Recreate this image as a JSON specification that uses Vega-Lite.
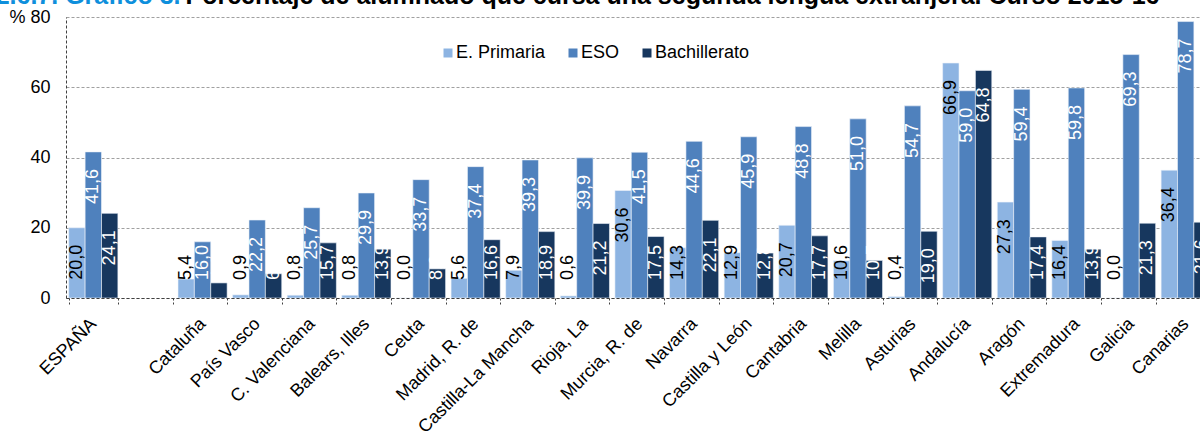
{
  "$schema": "https://vega.github.io/schema/vega-lite/v6.json",
  "width": 1134,
  "height": 281,
  "autosize": {"type": "none"},
  "padding": {"left": 66, "top": 17, "right": 0, "bottom": 133},
  "config": {
    "locale": {"number": {"decimal": ",", "thousands": ".", "grouping": [3], "currency": ["", " €"]}},
    "font": "Liberation Sans",
    "view": {"stroke": null}
  },
  "data": {
    "values": [
      {"region": "ESPAÑA", "serie": "E. Primaria", "value": 20.0},
      {"region": "ESPAÑA", "serie": "ESO", "value": 41.6},
      {"region": "ESPAÑA", "serie": "Bachillerato", "value": 24.1},
      {"region": "Cataluña", "serie": "E. Primaria", "value": 5.4},
      {"region": "Cataluña", "serie": "ESO", "value": 16.0},
      {"region": "Cataluña", "serie": "Bachillerato", "value": 4.3},
      {"region": "País Vasco", "serie": "E. Primaria", "value": 0.9},
      {"region": "País Vasco", "serie": "ESO", "value": 22.2},
      {"region": "País Vasco", "serie": "Bachillerato", "value": 6.9},
      {"region": "C. Valenciana", "serie": "E. Primaria", "value": 0.8},
      {"region": "C. Valenciana", "serie": "ESO", "value": 25.7},
      {"region": "C. Valenciana", "serie": "Bachillerato", "value": 15.7},
      {"region": "Balears, Illes", "serie": "E. Primaria", "value": 0.8},
      {"region": "Balears, Illes", "serie": "ESO", "value": 29.9},
      {"region": "Balears, Illes", "serie": "Bachillerato", "value": 13.9},
      {"region": "Ceuta", "serie": "E. Primaria", "value": 0.0},
      {"region": "Ceuta", "serie": "ESO", "value": 33.7},
      {"region": "Ceuta", "serie": "Bachillerato", "value": 8.3},
      {"region": "Madrid, R. de", "serie": "E. Primaria", "value": 5.6},
      {"region": "Madrid, R. de", "serie": "ESO", "value": 37.4},
      {"region": "Madrid, R. de", "serie": "Bachillerato", "value": 16.6},
      {"region": "Castilla-La Mancha", "serie": "E. Primaria", "value": 7.9},
      {"region": "Castilla-La Mancha", "serie": "ESO", "value": 39.3},
      {"region": "Castilla-La Mancha", "serie": "Bachillerato", "value": 18.9},
      {"region": "Rioja, La", "serie": "E. Primaria", "value": 0.6},
      {"region": "Rioja, La", "serie": "ESO", "value": 39.9},
      {"region": "Rioja, La", "serie": "Bachillerato", "value": 21.2},
      {"region": "Murcia, R. de", "serie": "E. Primaria", "value": 30.6},
      {"region": "Murcia, R. de", "serie": "ESO", "value": 41.5},
      {"region": "Murcia, R. de", "serie": "Bachillerato", "value": 17.5},
      {"region": "Navarra", "serie": "E. Primaria", "value": 14.3},
      {"region": "Navarra", "serie": "ESO", "value": 44.6},
      {"region": "Navarra", "serie": "Bachillerato", "value": 22.1},
      {"region": "Castilla y León", "serie": "E. Primaria", "value": 12.9},
      {"region": "Castilla y León", "serie": "ESO", "value": 45.9},
      {"region": "Castilla y León", "serie": "Bachillerato", "value": 12.8},
      {"region": "Cantabria", "serie": "E. Primaria", "value": 20.7},
      {"region": "Cantabria", "serie": "ESO", "value": 48.8},
      {"region": "Cantabria", "serie": "Bachillerato", "value": 17.7},
      {"region": "Melilla", "serie": "E. Primaria", "value": 10.6},
      {"region": "Melilla", "serie": "ESO", "value": 51.0},
      {"region": "Melilla", "serie": "Bachillerato", "value": 10.7},
      {"region": "Asturias", "serie": "E. Primaria", "value": 0.4},
      {"region": "Asturias", "serie": "ESO", "value": 54.7},
      {"region": "Asturias", "serie": "Bachillerato", "value": 19.0},
      {"region": "Andalucía", "serie": "E. Primaria", "value": 66.9},
      {"region": "Andalucía", "serie": "ESO", "value": 59.0},
      {"region": "Andalucía", "serie": "Bachillerato", "value": 64.8},
      {"region": "Aragón", "serie": "E. Primaria", "value": 27.3},
      {"region": "Aragón", "serie": "ESO", "value": 59.4},
      {"region": "Aragón", "serie": "Bachillerato", "value": 17.4},
      {"region": "Extremadura", "serie": "E. Primaria", "value": 16.4},
      {"region": "Extremadura", "serie": "ESO", "value": 59.8},
      {"region": "Extremadura", "serie": "Bachillerato", "value": 13.9},
      {"region": "Galicia", "serie": "E. Primaria", "value": 0.0},
      {"region": "Galicia", "serie": "ESO", "value": 69.3},
      {"region": "Galicia", "serie": "Bachillerato", "value": 21.3},
      {"region": "Canarias", "serie": "E. Primaria", "value": 36.4},
      {"region": "Canarias", "serie": "ESO", "value": 78.7},
      {"region": "Canarias", "serie": "Bachillerato", "value": 21.6}
    ]
  },
  "encoding": {
    "x": {
      "field": "region",
      "type": "nominal",
      "sort": null,
      "scale": {
        "domain": ["ESPAÑA", " ", "Cataluña", "País Vasco", "C. Valenciana", "Balears, Illes", "Ceuta", "Madrid, R. de", "Castilla-La Mancha", "Rioja, La", "Murcia, R. de", "Navarra", "Castilla y León", "Cantabria", "Melilla", "Asturias", "Andalucía", "Aragón", "Extremadura", "Galicia", "Canarias"],
        "range": [0, 1147],
        "paddingInner": 0.1,
        "paddingOuter": 0.05
      },
      "axis": {
        "title": "Porcentaje de alumnado que cursa una segunda lengua extranjera. Curso 2015-16",
        "titleAngle": 0,
        "titleAlign": "left",
        "titleAnchor": "start",
        "titleBaseline": "alphabetic",
        "titleX": 119,
        "titleY": -295,
        "titleColor": "#000000",
        "titleFontSize": 25,
        "titleFontWeight": "bold",
        "titleFont": "Liberation Sans",
        "labelAngle": -45,
        "labelAlign": "right",
        "labelBaseline": "middle",
        "labelFontSize": 18,
        "labelFont": "Liberation Sans",
        "labelColor": "#000000",
        "labelPadding": 17,
        "labelLimit": 400,
        "labelOverlap": false,
        "tickBand": "extent",
        "tickSize": 6,
        "tickColor": "#404040",
        "tickDash": [2, 2],
        "domainColor": "#404040",
        "domainDash": [3, 2],
        "zindex": 1
      }
    },
    "xOffset": {
      "field": "serie",
      "type": "nominal",
      "sort": null,
      "scale": {"domain": ["E. Primaria", "ESO", "Bachillerato"], "paddingInner": 0, "paddingOuter": 0}
    },
    "y": {
      "field": "value",
      "type": "quantitative",
      "scale": {"domain": [0, 80], "nice": false},
      "axis": {
        "values": [0, 20, 40, 60, 80],
        "grid": true,
        "gridColor": "#a0a0a0",
        "gridDash": [3, 2],
        "ticks": false,
        "labelPadding": 16,
        "labelFontSize": 18,
        "labelFont": "Liberation Sans",
        "labelColor": "#000000",
        "domainColor": "#404040",
        "domainDash": [3, 2],
        "labelExpr": "datum.value == 80 ? '% 80' : datum.label",
        "title": "2.6.7. Gráfico 3.",
        "titleAngle": 0,
        "titleAlign": "right",
        "titleBaseline": "alphabetic",
        "titleX": 114,
        "titleY": -14,
        "titleColor": "#0E8FDC",
        "titleFontSize": 25,
        "titleFontWeight": "bold",
        "titleFont": "Liberation Sans"
      }
    }
  },
  "layer": [
    {
      "mark": {"type": "bar", "stroke": "#eef3fa", "strokeWidth": 0.6},
      "encoding": {
        "color": {
          "field": "serie",
          "type": "nominal",
          "sort": null,
          "scale": {"domain": ["E. Primaria", "ESO", "Bachillerato"], "range": ["#8DB4E2", "#4F81BD", "#17375E"]},
          "legend": {
            "orient": "none",
            "legendX": 373,
            "legendY": 27,
            "direction": "horizontal",
            "title": null,
            "symbolType": "square",
            "symbolSize": 81,
            "symbolStrokeWidth": 0,
            "labelFontSize": 18,
            "labelFont": "Liberation Sans",
            "labelColor": "#000000",
            "labelOffset": -1,
            "columnPadding": 18
          }
        }
      }
    },
    {
      "transform": [{"filter": "datum.value >= 19"}],
      "mark": {"type": "text", "angle": 270, "align": "right", "baseline": "middle", "dx": -17, "fontSize": 18, "font": "Liberation Sans"},
      "encoding": {
        "text": {"field": "value", "type": "quantitative", "format": ".1f"},
        "color": {"condition": {"test": "datum.serie == 'E. Primaria'", "value": "#000000"}, "value": "#ffffff"}
      }
    },
    {
      "transform": [{"filter": "datum.value < 19"}],
      "mark": {"type": "text", "angle": 270, "align": "left", "baseline": "middle", "dx": 18, "fontSize": 18, "font": "Liberation Sans"},
      "encoding": {
        "y": {"datum": 0},
        "text": {"field": "value", "type": "quantitative", "format": ".1f"},
        "color": {"condition": {"test": "datum.serie == 'E. Primaria'", "value": "#000000"}, "value": "#ffffff"}
      }
    }
  ]
}
